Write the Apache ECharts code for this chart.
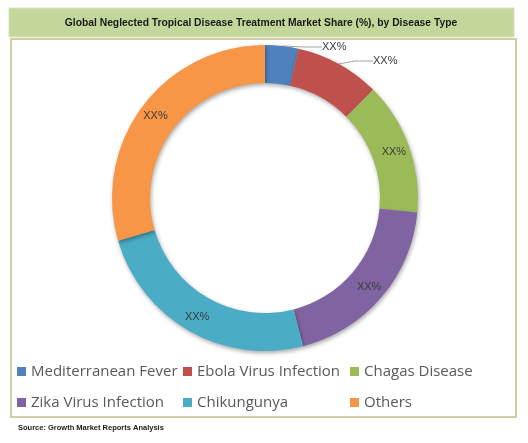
<!DOCTYPE html>
<html>
<head>
<meta charset="utf-8">
<script src="https://cdn.jsdelivr.net/npm/echarts@6/dist/echarts.min.js"></script>
<style>
  html, body { margin: 0; padding: 0; background: #fff; }
  #chart { width: 528px; height: 443px; }
</style>
</head>
<body>
<div id="chart"></div>
<script>
const categories = ["Mediterranean Fever", "Ebola Virus Infection", "Chagas Disease", "Zika Virus Infection", "Chikungunya", "Others"];
const shares = [3.5, 9, 14, 19.5, 24.5, 29.5];
const labelText = ["XX%", "XX%", "XX%", "XX%", "XX%", "XX%"];
const colors = ["#4f81bd", "#c0504d", "#9bbb59", "#8064a2", "#4bacc6", "#f79646"];

const chart = echarts.init(document.getElementById("chart"));

const legendStyle = {
  orient: "vertical",
  padding: 0,
  itemWidth: 9,
  itemHeight: 9,
  itemGap: 16,
  icon: "rect",
  selectedMode: false,
  textStyle: { fontFamily: "Open Sans", fontSize: 15, color: "#595959" },
};

const options = {
  animation: false,
  color: colors,
  graphic: [
    // title banner
    { type: "rect", shape: { x: 9, y: 8, width: 505, height: 29 }, style: { fill: "#c4d79b", stroke: "#d8e4bc", lineWidth: 1 } },
    { type: "text", x: 261, y: 23, style: { text: "Global Neglected Tropical Disease Treatment Market Share (%), by Disease Type", fontFamily: "Liberation Sans", fontWeight: "bold", fontSize: 10.3, fill: "#1a1a1a", align: "center", verticalAlign: "middle" } },
    // chart box
    { type: "rect", shape: { x: 11, y: 39, width: 505, height: 378 }, style: { fill: "none", stroke: "#d4cca4", lineWidth: 2 } },
    { type: "text", x: 18, y: 428, style: { text: "Source: Growth Market Reports Analysis", fontFamily: "Liberation Sans", fontWeight: "bold", fontSize: 7.5, fill: "#1a1a1a", verticalAlign: "middle" } },
  ],
  legend: [
    Object.assign({ left: 17, top: 364, data: [categories[0], categories[3]] }, legendStyle),
    Object.assign({ left: 183, top: 364, data: [categories[1], categories[4]] }, legendStyle),
    Object.assign({ left: 350, top: 364, data: [categories[2], categories[5]] }, legendStyle),
  ],
  series: [
    {
      type: "pie",
      center: [265, 198],
      radius: [115, 153],
      startAngle: 90,
      clockwise: true,
      avoidLabelOverlap: false,
      itemStyle: { shadowBlur: 4, shadowOffsetX: 1, shadowOffsetY: 2, shadowColor: "rgba(0,0,0,0.35)" },
      label: {
        show: true,
        position: "inside",
        formatter: (p) => labelText[p.dataIndex],
        fontFamily: "Liberation Sans",
        fontSize: 11,
        color: "#3a3a3a",
      },
      labelLine: { show: false },
      // the two thin slices carry their label outside
      labelLayout: (p) => {
        if (p.dataIndex === 0) return { x: 322, y: 47, align: "left", verticalAlign: "middle" };
        if (p.dataIndex === 1) return { x: 373, y: 61, align: "left", verticalAlign: "middle" };
        return {};
      },
      emphasis: { disabled: true },
      data: categories.map((name, i) => {
        const item = { name: name, value: shares[i] };
        if (i < 2) {
          item.label = { position: "outside", distanceToLabelLine: 1 };
          item.labelLine = { show: true, length: 12, length2: 18, lineStyle: { color: "#a6a6a6", width: 1 } };
        }
        return item;
      }),
    },
  ],
};

chart.setOption(options);
</script>
</body>
</html>
